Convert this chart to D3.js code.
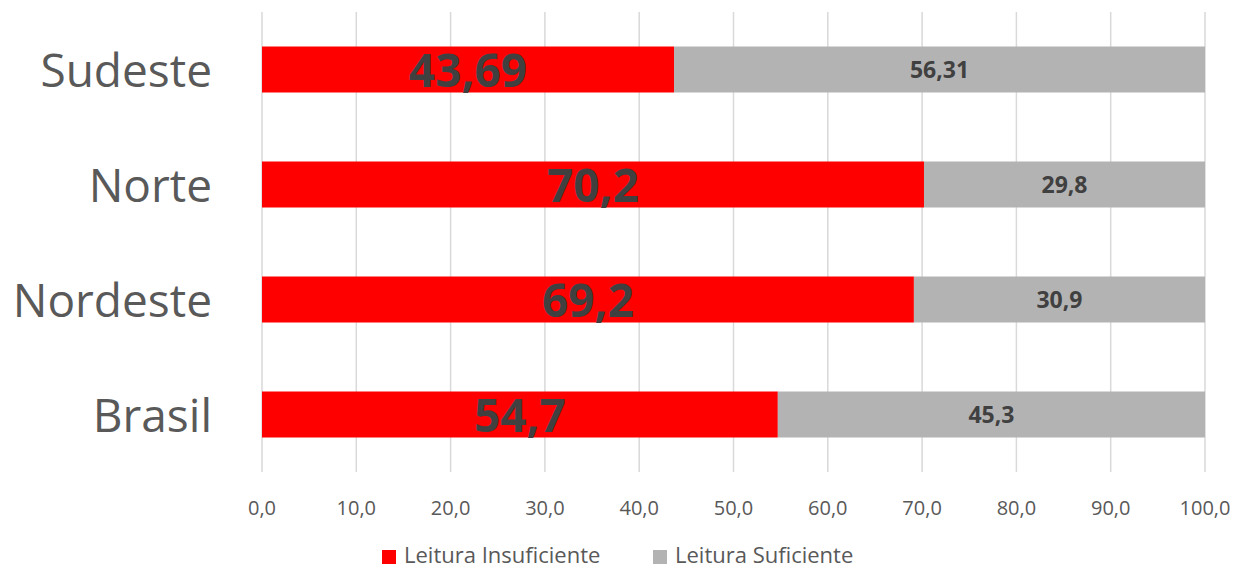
<!DOCTYPE html>
<html>
<head>
<meta charset="utf-8">
<script src="https://cdn.jsdelivr.net/npm/d3@7"></script>
<style>
  body { margin: 0; background: #fff; }
  text { font-family: "Open Sans", sans-serif; }
</style>
</head>
<body>
<div id="plot_area"></div>
<script>
// chart data
var regions = ["Sudeste", "Norte", "Nordeste", "Brasil"];
var insuficiente = [43.69, 70.2, 69.2, 54.7];
var suficiente = [56.31, 29.8, 30.9, 45.3];
var seriesNames = ["Leitura Insuficiente", "Leitura Suficiente"];
var xTicks = [0, 10, 20, 30, 40, 50, 60, 70, 80, 90, 100];

var W = 1233, H = 570;
var margin = {top: 12, right: 28, bottom: 98, left: 262};
var width = W - margin.left - margin.right,
    height = H - margin.top - margin.bottom;

var svg = d3.select("#plot_area").append("svg")
    .attr("width", W).attr("height", H);
var g = svg.append("g")
    .attr("transform", "translate(" + margin.left + "," + margin.top + ")");

var x = d3.scaleLinear().domain([0, 100]).range([0, width]);
var y = d3.scaleBand().domain(regions).range([0, height])
    .paddingInner(0.6).paddingOuter(0.3);
var color = d3.scaleOrdinal().domain(seriesNames).range(["#ff0000", "#b3b3b3"]);

var fmt = function(v) { return String(v).replace(".", ","); };

// gridlines
g.selectAll(".grid").data(xTicks).enter().append("line")
    .attr("x1", d => x(d)).attr("x2", d => x(d))
    .attr("y1", 0).attr("y2", height)
    .attr("stroke", "#d9d9d9").attr("stroke-width", 1.5);

// tick labels
g.selectAll(".tick-label").data(xTicks).enter().append("text")
    .attr("x", d => x(d)).attr("y", height + 43)
    .attr("text-anchor", "middle")
    .attr("font-size", 20).attr("fill", "#595959")
    .text(d => d.toFixed(1).replace(".", ","));

// stacked data, normalised to 100%
var rows = regions.map(function(r, i) {
  var tot = insuficiente[i] + suficiente[i];
  return {region: r, a: insuficiente[i], b: suficiente[i],
          pa: insuficiente[i] / tot * 100, pb: suficiente[i] / tot * 100};
});

var bars = g.selectAll(".row").data(rows).enter().append("g");

bars.append("rect")
    .attr("x", x(0)).attr("y", d => y(d.region))
    .attr("width", d => x(d.pa) - x(0)).attr("height", y.bandwidth())
    .attr("fill", color(seriesNames[0]));
bars.append("rect")
    .attr("x", d => x(d.pa)).attr("y", d => y(d.region))
    .attr("width", d => x(100) - x(d.pa)).attr("height", y.bandwidth())
    .attr("fill", color(seriesNames[1]));

// value labels
bars.append("text")
    .attr("x", d => x(d.pa / 2))
    .attr("y", d => y(d.region) + y.bandwidth() / 2 + 17)
    .attr("text-anchor", "middle")
    .attr("font-size", 46).attr("font-weight", "bold").attr("fill", "#404040")
    .text(d => fmt(d.a));
bars.append("text")
    .attr("x", d => x(d.pa + d.pb / 2))
    .attr("y", d => y(d.region) + y.bandwidth() / 2 + 8)
    .attr("text-anchor", "middle")
    .attr("font-size", 23).attr("font-weight", "bold").attr("fill", "#404040")
    .text(d => fmt(d.b));

// category labels
g.selectAll(".cat").data(regions).enter().append("text")
    .attr("x", -50).attr("y", d => y(d) + y.bandwidth() / 2 + 17)
    .attr("text-anchor", "end")
    .attr("font-size", 46).attr("fill", "#595959")
    .text(d => d);

// legend
var legendPos = [382, 653];
var legend = svg.selectAll(".legend").data(seriesNames).enter().append("g")
    .attr("transform", (d, i) => "translate(" + legendPos[i] + ",550)");
legend.append("rect").attr("width", 14).attr("height", 14).attr("fill", d => color(d));
legend.append("text").attr("x", 22).attr("y", 13)
    .attr("font-size", 22).attr("fill", "#595959")
    .text(d => d);
</script>
</body>
</html>
